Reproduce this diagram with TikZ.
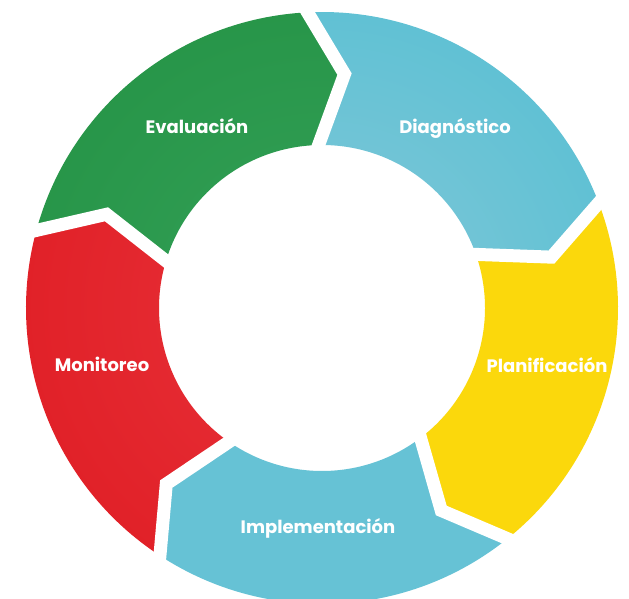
\documentclass[tikz,border=0pt]{standalone}
\usepackage{fontspec}
\setmainfont{Poppins}
\usetikzlibrary{calc}
\definecolor{cgreenin}{HTML}{34A158}
\definecolor{cgreenout}{HTML}{1B8A3A}
\definecolor{cdiagin}{HTML}{84C8D8}
\definecolor{cdiagout}{HTML}{3CBAD0}
\definecolor{cyellow}{HTML}{FBD80C}
\definecolor{credin}{HTML}{E8323A}
\definecolor{credout}{HTML}{DA1016}
\definecolor{cimpl}{HTML}{66C2D5}
\newcommand\ringpath[2]{%
  ($(O)+({#1+0.8}:296pt)$)
    arc[start angle={#1+0.8}, end angle={#2+0.8}, radius=296pt]
    -- ($(O)+({#2-7.5}:235pt)$)
    -- ($(O)+({#2-0.8}:163pt)$)
    arc[start angle={#2-0.8}, end angle={#1-0.8}, radius=163pt]
    -- ($(O)+({#1-7.5}:235pt)$) -- cycle}
\newcommand\ringshade[4]{%
  \begin{scope}
    \clip \ringpath{#1}{#2};
    \shade[inner color=#3, outer color=#4] (O) circle[radius=600pt];
  \end{scope}}
\tikzset{lbl/.style={text=white, font=\bfseries\fontsize{18}{21}\selectfont, anchor=base, inner sep=0pt}}
\begin{document}
\begin{tikzpicture}[x=1pt,y=1pt]
\useasboundingbox (0,0) rectangle (629,598);
\clip (0,0) rectangle (629,598);
\fill[white] (0,0) rectangle (629,598);
\coordinate (O) at (322,290);
\ringshade{164}{92}{cgreenin}{cgreenout}
\ringshade{92}{20}{cdiagin}{cdiagout}
\fill[cyellow] \ringpath{20}{-52};
\fill[cimpl] \ringpath{-52}{-124};
\ringshade{-124}{-196}{credin}{credout}
\foreach \b in {92,20,-52,-124,164} {
  \coordinate (P) at ($(O)+({\b+0.8}:296pt)$);
  \coordinate (T) at ($(O)+({\b-7.5}:235pt)$);
  \coordinate (Q) at ($(O)+({\b-0.8}:163pt)$);
  \draw[white, line width=13pt, line join=miter]
    ($(T)!1.5!(P)$) -- (T) -- ($(T)!1.5!(Q)$);
}
\node[lbl] (eval) at (197,464) {Evaluación};
\node[lbl] (diag) at (455,464) {Diagnóstico};
\node[lbl] (mon) at (102,227) {Monitoreo};
\node[lbl] (plan) at (547,226) {Planificación};
\node[lbl] (impl) at (318,65) {Implementación};
\end{tikzpicture}
\end{document}
